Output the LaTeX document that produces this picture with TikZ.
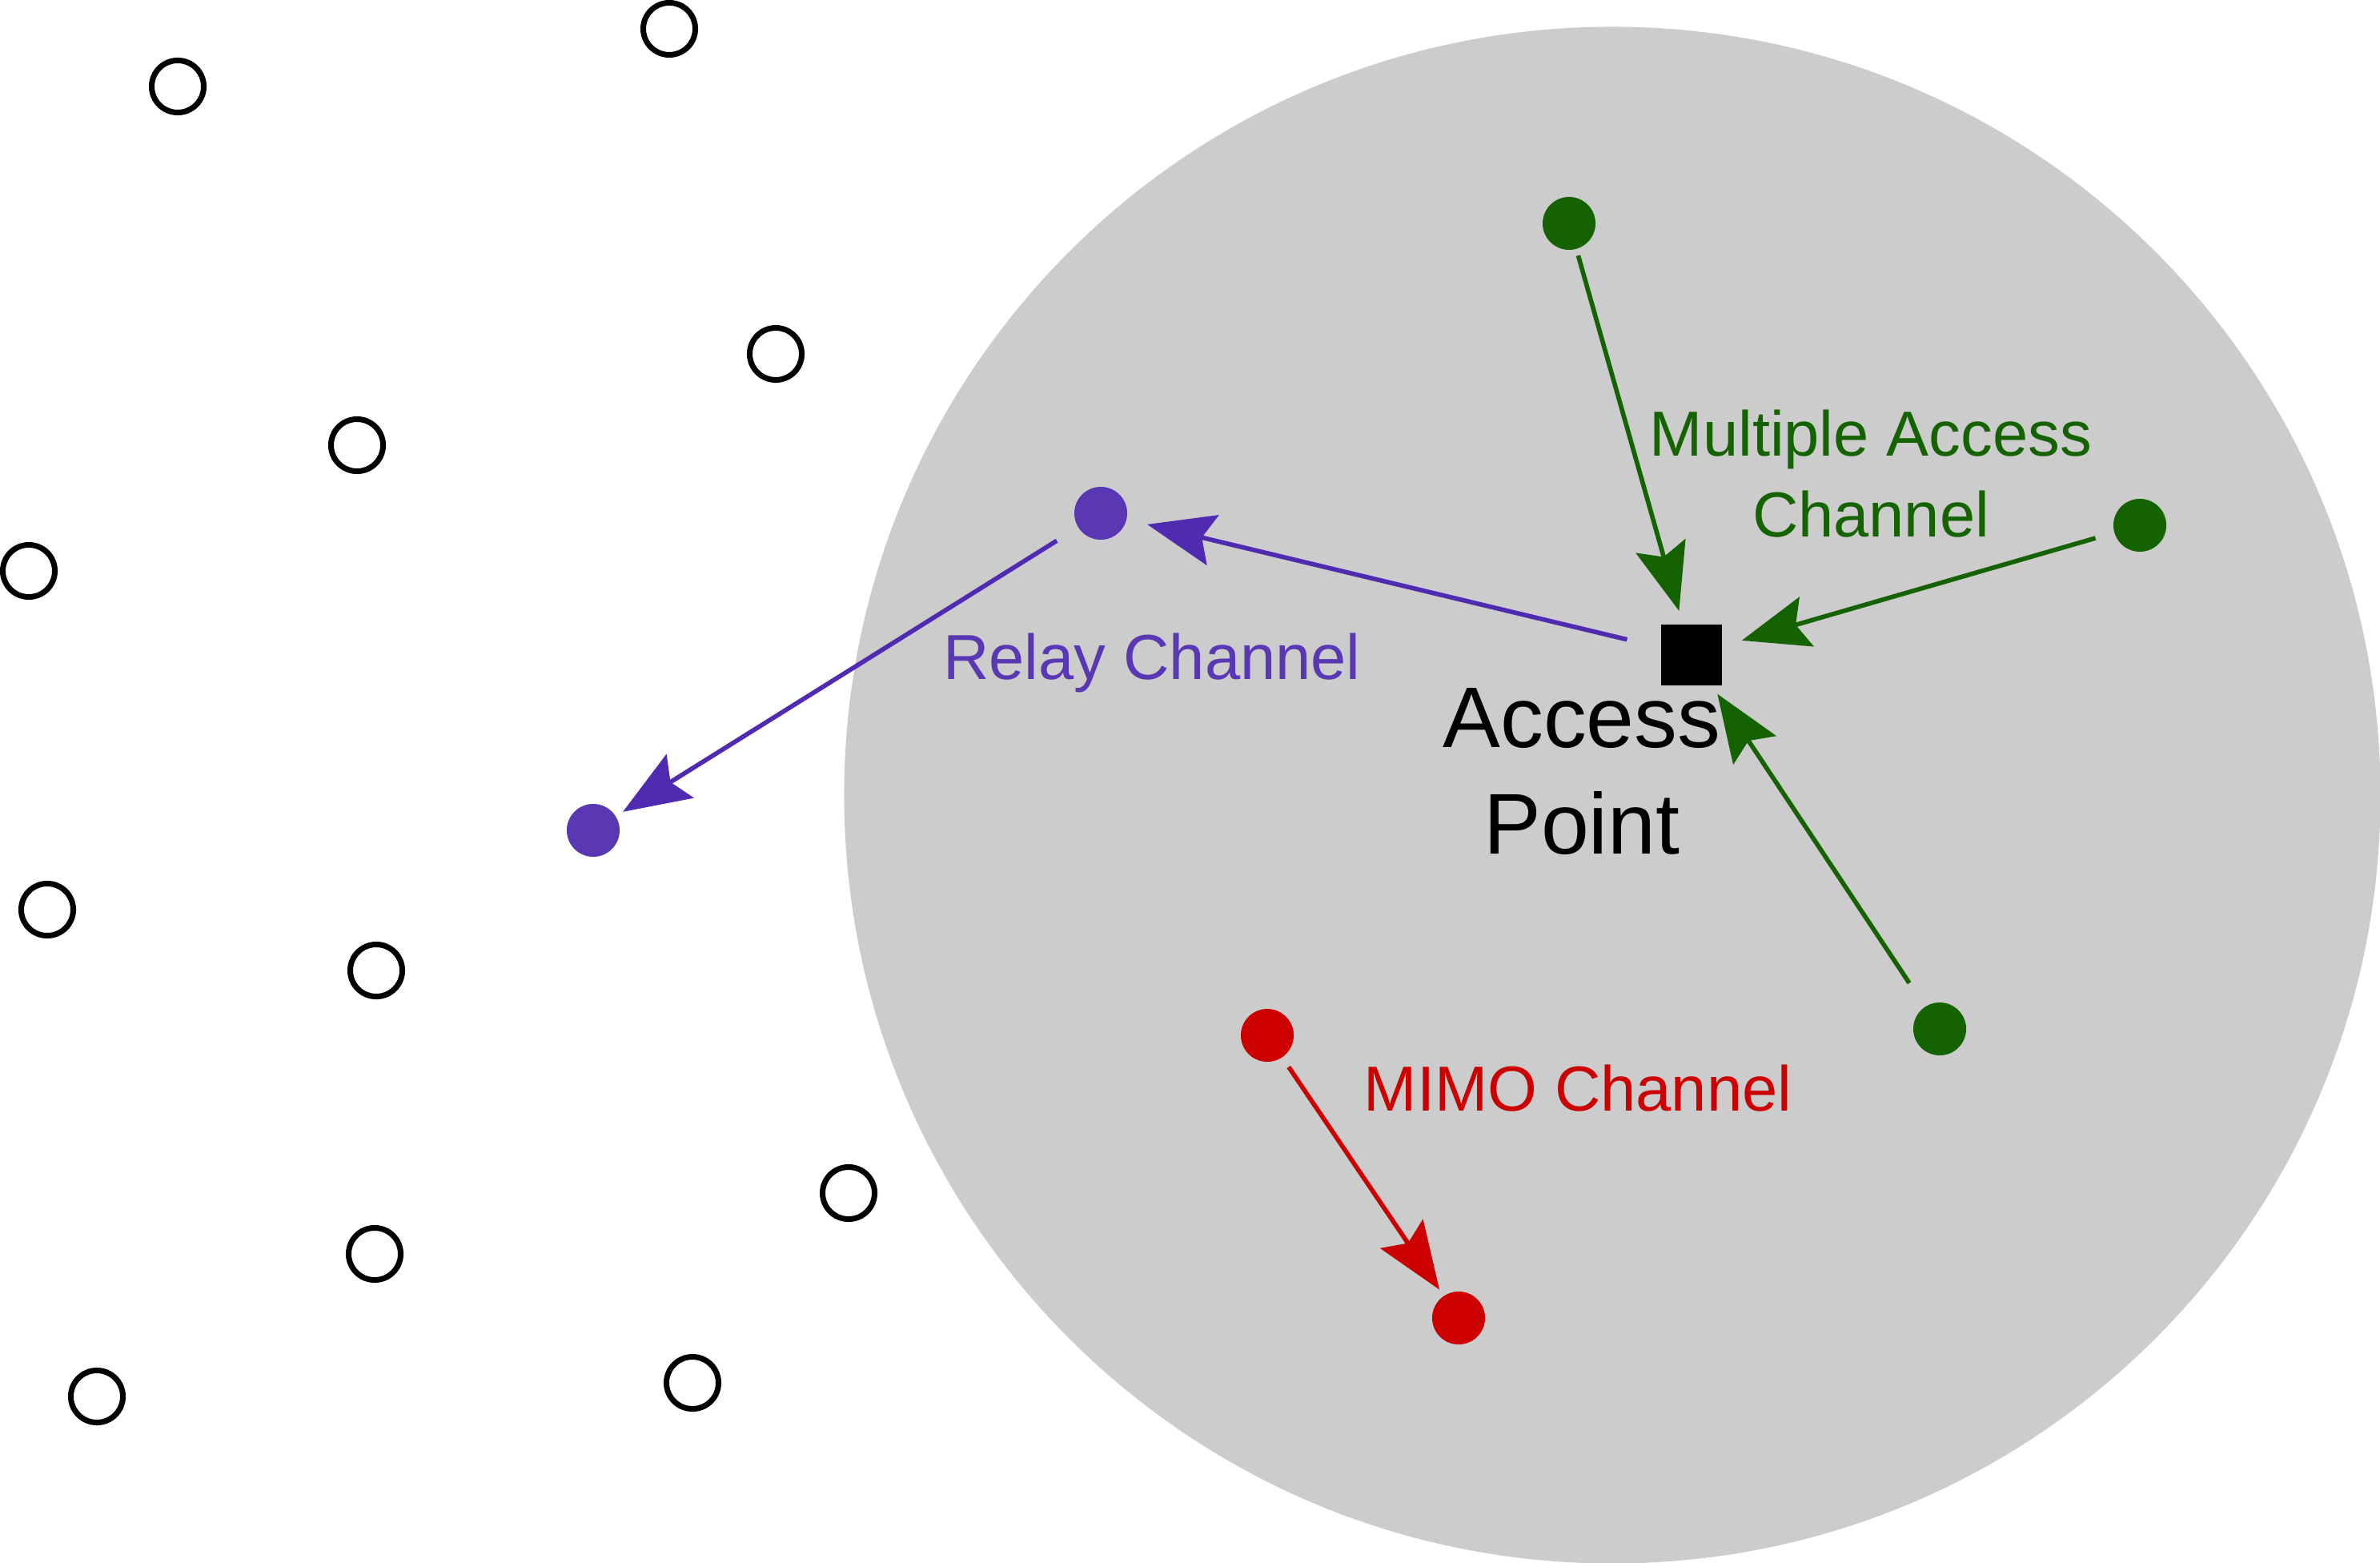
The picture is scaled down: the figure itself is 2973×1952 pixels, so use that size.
\documentclass[tikz,border=0pt]{standalone}
\usepackage{fontspec}
\setmainfont{Liberation Sans}
\usetikzlibrary{arrows.meta}
\definecolor{cellgray}{RGB}{204,204,204}
\definecolor{relaydot}{RGB}{90,56,180}
\definecolor{relayline}{RGB}{80,42,176}
\definecolor{macgreen}{RGB}{21,99,0}
\definecolor{mimored}{RGB}{204,0,0}
\begin{document}
\begin{tikzpicture}[x=0.01cm,y=-0.01cm,
  idle/.style={circle,draw=black,line width=2pt,minimum size=0.65cm,inner sep=0pt},
  dot/.style={circle,fill=#1,minimum size=0.66cm,inner sep=0pt},
  link/.style={draw=#1,line width=1.6pt,-{Stealth[length=0.84cm,width=0.64cm,inset=0.14cm]}},
  lbl/.style={font=\fontsize{22.6}{28.45}\selectfont,text=#1,align=center,inner sep=0pt,anchor=base},
  aplbl/.style={font=\fontsize{30.6}{37.8}\selectfont,text=black,align=center,inner sep=0pt,anchor=base}
]
\useasboundingbox (0,0) rectangle (2973,1952);
% coverage area
\fill[cellgray] (2014,993) circle[radius=9.59cm];

% idle users
\node[idle] (i1) at (836,36) {};
\node[idle] (i2) at (222,108) {};
\node[idle] (i3) at (969,442) {};
\node[idle] (i4) at (446,556) {};
\node[idle] (i5) at (36,713) {};
\node[idle] (i6) at (59,1136) {};
\node[idle] (i7) at (470,1212) {};
\node[idle] (i8) at (1060,1490) {};
\node[idle] (i9) at (468,1566) {};
\node[idle] (i10) at (121,1744) {};
\node[idle] (i11) at (865,1727) {};

% active users
\node[dot=relaydot] (pa) at (1375,641) {};
\node[dot=relaydot] (pb) at (741,1037) {};
\node[dot=macgreen] (gt) at (1960,279) {};
\node[dot=macgreen] (gr) at (2673,656) {};
\node[dot=macgreen] (gb) at (2423,1285) {};
\node[dot=mimored] (rt) at (1583,1293) {};
\node[dot=mimored] (rb) at (1822,1646) {};

% access point
\node[rectangle,fill=black,minimum size=0.76cm,inner sep=0pt] (ap) at (2113,818) {};

% connectors
\draw[link=macgreen,shorten <=0.08cm,shorten >=0.17cm] (gt) -- (ap);
\draw[link=macgreen,shorten <=0.24cm,shorten >=0.25cm] (gr) -- (ap);
\draw[link=macgreen,shorten <=0.35cm,shorten >=0.12cm] (gb) -- (ap);
\draw[link=relayline,shorten <=0.43cm,shorten >=0.26cm] (ap) -- (pa);
\draw[link=relayline,shorten <=0.31cm,shorten >=0.10cm] (pa) -- (pb);
\draw[link=mimored,shorten <=0.14cm,shorten >=0.09cm] (rt) -- (rb);

% labels
\node[lbl=macgreen] (lmac) at (2337,670) {Multiple Access\\Channel};
\node[lbl=relaydot] (lrelay) at (1439,848) {Relay Channel};
\node[lbl=mimored] (lmimo) at (1971,1387) {MIMO Channel};
\node[aplbl] (lap) at (1976,1066) {Access\\Point};
\end{tikzpicture}
\end{document}
